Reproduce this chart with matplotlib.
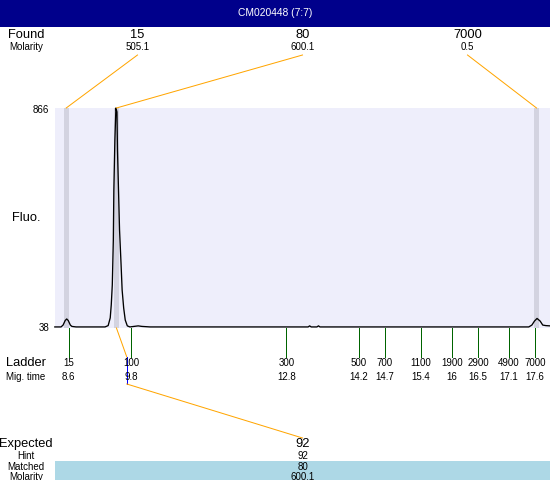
import matplotlib
matplotlib.use("Agg")
import matplotlib.pyplot as plt
from matplotlib.transforms import blended_transform_factory

plt.rcParams['font.family'] = ['Liberation Sans', 'DejaVu Sans']

# sample / title
title = "CM020448 (7:7)"

# found peaks (size, molarity, migration time of the peak)
found_sizes = ["15", "80", "7000"]
found_molarity = ["505.1", "600.1", "0.5"]
found_times = [8.55, 9.52, 17.63]

# ladder
ladder_sizes = [15, 100, 300, 500, 700, 1100, 1900, 2900, 4900, 7000]
ladder_times = [8.6, 9.8, 12.8, 14.2, 14.7, 15.4, 16, 16.5, 17.1, 17.6]

# expected fragment
expected_size = "92"
hint_size = "92"
matched_size = "80"
matched_molarity = "600.1"
expected_time = 9.72
matched_time = 9.52

# fluorescence range
fluo_min = 38
fluo_max = 866

# electropherogram trace (migration time, fluorescence)
trace_time = [8.33, 8.45, 8.49, 8.53, 8.56, 8.59, 8.63, 8.66, 8.74, 9.30, 9.36,
              9.40, 9.42, 9.44, 9.46, 9.47, 9.49, 9.51, 9.53, 9.54, 9.56, 9.58,
              9.61, 9.63, 9.66, 9.69, 9.73, 9.78, 9.86, 9.94, 10.01, 10.17,
              13.22, 13.25, 13.28, 13.39, 13.42, 13.45, 17.48, 17.54, 17.59,
              17.64, 17.70, 17.75, 17.81, 17.89]
trace_fluo = [42, 42, 49, 66, 72, 66, 49, 44, 42, 42, 47,
              76, 125, 200, 369, 557, 746, 866, 851, 708, 557, 407,
              275, 181, 113, 68, 46, 42, 44, 46, 44, 42,
              42, 46, 42, 42, 46, 42, 42, 49, 64,
              74, 64, 49, 47, 46]

W, H = 550, 480
PLOT_L, PLOT_R, PLOT_T, PLOT_B = 55, 550, 108, 328
ORANGE = '#ffa500'
PX = 0.72  # one pixel in points

fig = plt.figure(figsize=(W / 100, H / 100), dpi=100)
ax = fig.add_axes([PLOT_L / W, 1 - PLOT_B / H, (PLOT_R - PLOT_L) / W, (PLOT_B - PLOT_T) / H])
ax.set_facecolor('#eeeefb')
ax.set_xlim(8.334, 17.89)
ax.set_ylim(fluo_min, fluo_max)
ax.set_xticks([])
ax.set_yticks([])
for s in ax.spines.values():
    s.set_visible(False)

# found peak bands
for t in found_times:
    ax.axvspan(t - 0.05, t + 0.05, color='#d3d3e0', lw=0, zorder=1)

ax.plot(trace_time, trace_fluo, color='black', lw=0.95, zorder=3, clip_on=False)

# overlay in pixel coordinates for the annotation panels
over = fig.add_axes([0, 0, 1, 1], facecolor='none')
over.set_xlim(0, W)
over.set_ylim(H, 0)
over.axis('off')
blend = blended_transform_factory(ax.transData, over.transData)


def to_px(t, f):
    return over.transData.inverted().transform(ax.transData.transform((t, f)))


# title bar
over.add_patch(plt.Rectangle((0, 0), W, 26.7, color='#00008b', lw=0))
over.text(W / 2, 13.5, title, color='white', fontsize=7.4, ha='center', va='center')

# left labels
big = 9.3
small = 7
over.text(26, 34.5, "Found", fontsize=big, ha='center', va='center')
over.text(26, 46.5, "Molarity", fontsize=small, ha='center', va='center')
over.text(26, 218, "Fluo.", fontsize=9.3, ha='center', va='center')
over.text(26, 363, "Ladder", fontsize=big, ha='center', va='center')
over.text(26, 377, "Mig. time", fontsize=small, ha='center', va='center')
over.text(26, 444, "Expected", fontsize=big, ha='center', va='center')
over.text(26, 456, "Hint", fontsize=small, ha='center', va='center')
over.text(26, 467, "Matched", fontsize=small, ha='center', va='center')
over.text(26, 476.5, "Molarity", fontsize=small, ha='center', va='center')

# y range labels
over.text(49, to_px(0, fluo_max)[1] + 2, str(fluo_max), fontsize=small, ha='right', va='center')
over.text(49, to_px(0, fluo_min)[1], str(fluo_min), fontsize=small, ha='right', va='center')

# found peaks: labels + connectors
n = len(found_sizes)
for i in range(n):
    lx = PLOT_L + (PLOT_R - PLOT_L) * (i + 0.5) / n
    over.text(lx, 34.5, found_sizes[i], fontsize=big, ha='center', va='center')
    over.text(lx, 46.5, found_molarity[i], fontsize=small, ha='center', va='center')
    px, py = to_px(found_times[i], fluo_max)
    over.plot([lx, px], [55, py], color=ORANGE, lw=PX)

# ladder ticks and labels
for size, t in zip(ladder_sizes, ladder_times):
    over.plot([t, t], [PLOT_B, 357], color='#006400', lw=PX, transform=blend)
    over.text(t, 363, str(size), fontsize=small, ha='center', va='center', transform=blend)
    over.text(t, 377, '{:g}'.format(t), fontsize=small, ha='center', va='center', transform=blend)

# expected fragment connector
mx, my = to_px(matched_time, fluo_min)
ex = to_px(expected_time, fluo_min)[0]
cx = PLOT_L + (PLOT_R - PLOT_L) / 2
over.plot([mx, ex], [my, 357], color=ORANGE, lw=PX)
over.plot([ex, ex], [357, 384], color='#0000ff', lw=PX)
over.plot([ex, cx], [384, 438], color=ORANGE, lw=PX)

# expected panel
over.add_patch(plt.Rectangle((PLOT_L, 461), PLOT_R - PLOT_L, H - 461, color='#add8e6', lw=0))
over.text(cx, 444, expected_size, fontsize=big, ha='center', va='center')
over.text(cx, 456, hint_size, fontsize=small, ha='center', va='center')
over.text(cx, 467, matched_size, fontsize=small, ha='center', va='center')
over.text(cx, 476.5, matched_molarity, fontsize=small, ha='center', va='center')

fig.savefig('out.png', dpi=100)
